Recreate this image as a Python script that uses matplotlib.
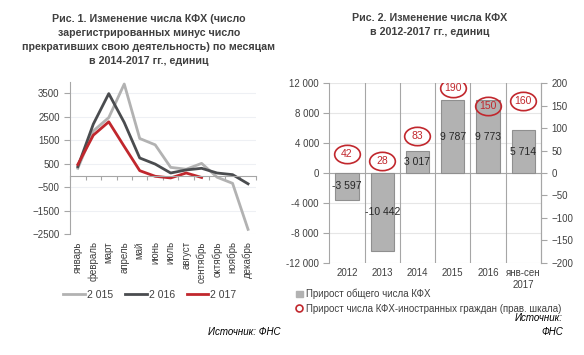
import matplotlib.pyplot as plt
import numpy as np
from matplotlib.path import Path
from matplotlib.transforms import Affine2D
from matplotlib.lines import Line2D
from matplotlib.patches import Patch

plt.rcParams['font.family'] = ['Liberation Sans', 'DejaVu Sans']
plt.rcParams['font.size'] = 7

# Рис. 1 data
months = ['январь', 'февраль', 'март', 'апрель', 'май', 'июнь', 'июль',
          'август', 'сентябрь', 'октябрь', 'ноябрь', 'декабрь']
y2015 = [310, 1900, 2470, 3900, 1580, 1310, 350, 270, 520, -70, -330, -2290]
y2016 = [380, 2190, 3490, 2260, 750, 490, 110, 240, 310, 110, 40, -350]
y2017 = [470, 1720, 2290, 1240, 210, -30, -100, 110, -80]

# Рис. 2 data
years = ['2012', '2013', '2014', '2015', '2016', 'янв-сен\n2017']
total = [-3597, -10442, 3017, 9787, 9773, 5714]
foreign = [42, 28, 83, 190, 150, 160]

txt = '#404040'
fig = plt.figure(figsize=(5.84, 3.55), dpi=100)

# ---------- left chart ----------
ax1 = fig.add_axes([0.120, 0.340, 0.318, 0.430])
x = np.arange(len(months))
l1, = ax1.plot(x, y2015, color='#b2b2b2', lw=2)
l2, = ax1.plot(x, y2016, color='#4a4c4f', lw=2)
l3, = ax1.plot(np.arange(len(y2017)), y2017, color='#c1272d', lw=2)
ax1.set_xlim(-0.5, 11.5)
ax1.set_ylim(-2500, 4000)
ax1.set_yticks(np.arange(-2500, 3501, 1000))
ax1.yaxis.grid(True, color='#eef0f4', lw=0.8)
ax1.set_axisbelow(True)
for s in ['top', 'right']:
    ax1.spines[s].set_visible(False)
ax1.spines['left'].set_color('#a6a6a6')
ax1.spines['bottom'].set_position(('data', 0))
ax1.spines['bottom'].set_color('#a6a6a6')
ax1.set_xticks(np.arange(-0.5, 12, 1))
ax1.set_xticklabels([])
ax1.tick_params(axis='x', length=3, color='#a6a6a6')
ax1.tick_params(axis='y', length=4, color='#a6a6a6', labelcolor=txt, labelsize=7)
sec = ax1.secondary_xaxis('bottom')
sec.set_xticks(x)
sec.set_xticklabels(months, rotation=90, color=txt, fontsize=7)
sec.tick_params(length=0, pad=5)
sec.spines['bottom'].set_visible(False)
fig.legend([l1, l2, l3], ['2 015', '2 016', '2 017'], loc='center',
           bbox_to_anchor=(150 / 584, 1 - 295 / 355), ncol=3, frameon=False,
           fontsize=7.5, handlelength=2.1, handletextpad=0.2, columnspacing=1.1,
           labelcolor=txt, borderpad=0, borderaxespad=0)

fig.text(149 / 584, 1 - 40 / 355,
         'Рис. 1. Изменение числа КФХ (число\nзарегистрированных минус число\n'
         'прекративших свою деятельность) по месяцам\nв 2014-2017 гг., единиц',
         ha='center', va='center', fontsize=7.7, fontweight='bold', color=txt,
         linespacing=1.5)
fig.text(281 / 584, 1 - 332 / 355, 'Источник: ФНС', ha='right', va='center',
         fontsize=7, style='italic', color='black')

# ---------- right chart ----------
ax2 = fig.add_axes([0.564, 0.260, 0.362, 0.505])
xb = np.arange(len(years))
ax2.bar(xb, total, width=0.66, color='#b2b2b2', edgecolor='#8f8f8f', lw=0.8, zorder=2)
for xi, v in zip(xb, total):
    ax2.text(xi, v / 2, f'{v:,}'.replace(',', ' '), ha='center', va='center',
             fontsize=7.5, color='#262626', zorder=4)
ax2.set_xlim(-0.5, 5.5)
ax2.set_ylim(-12000, 12000)
ax2.set_yticks(np.arange(-12000, 12001, 4000))
ax2.set_yticklabels([f'{v:,}'.replace(',', ' ') for v in range(-12000, 12001, 4000)])
ax2.yaxis.grid(True, color='#e6e6e6', lw=0.8)
ax2.axhline(0, color='#a6a6a6', lw=0.8, zorder=1)
for b in np.arange(0.5, 5, 1):
    ax2.axvline(b, color='#a6a6a6', lw=0.8, zorder=1)
ax2.set_axisbelow(True)
for s in ['top', 'bottom']:
    ax2.spines[s].set_visible(False)
ax2.spines['left'].set_color('#a6a6a6')
ax2.spines['right'].set_color('#a6a6a6')
ax2.set_xticks(xb)
ax2.set_xticklabels(years, color=txt, fontsize=7)
ax2.tick_params(axis='x', length=0, pad=4)
ax2.tick_params(axis='y', length=4, color='#a6a6a6', labelcolor=txt, labelsize=7)

ax3 = ax2.twinx()
ax3.set_ylim(-200, 200)
ax3.set_yticks(np.arange(-200, 201, 50))
ellipse = Path.unit_circle().transformed(Affine2D().scale(1.4, 1.0))
ax3.plot(xb, foreign, ls='none', marker=ellipse, ms=18.5, mfc='none',
         mec='#c1272d', mew=1.2, zorder=5)
for xi, v in zip(xb, foreign):
    ax3.text(xi, v, str(v), ha='center', va='center', fontsize=7.5,
             color='#c1272d', zorder=6)
for s in ['top', 'bottom', 'left']:
    ax3.spines[s].set_visible(False)
ax3.spines['right'].set_color('#a6a6a6')
ax3.tick_params(axis='y', length=4, color='#a6a6a6', labelcolor=txt, labelsize=7)

handles = [Patch(facecolor='#b2b2b2', edgecolor='#b2b2b2'),
           Line2D([], [], ls='none', marker='o', ms=5, mfc='none', mec='#c1272d', mew=1.2)]
fig.legend(handles, ['Прирост общего числа КФХ',
                     'Прирост числа КФХ-иностранных граждан (прав. шкала)'],
           loc='upper left', bbox_to_anchor=(296 / 584, 1 - 289 / 355), frameon=False,
           fontsize=7, handlelength=0.7, handleheight=0.7, handletextpad=0.3,
           labelspacing=0.45, labelcolor=txt, borderaxespad=0, borderpad=0)

fig.text(430 / 584, 1 - 25 / 355,
         'Рис. 2. Изменение числа КФХ\nв 2012-2017 гг., единиц',
         ha='center', va='center', fontsize=7.7, fontweight='bold', color=txt,
         linespacing=1.5)
fig.text(563 / 584, 1 - 325 / 355, 'Источник:\nФНС', ha='right', va='center',
         fontsize=7, style='italic', color='black', linespacing=1.4)

fig.savefig('out.png', dpi=100)
